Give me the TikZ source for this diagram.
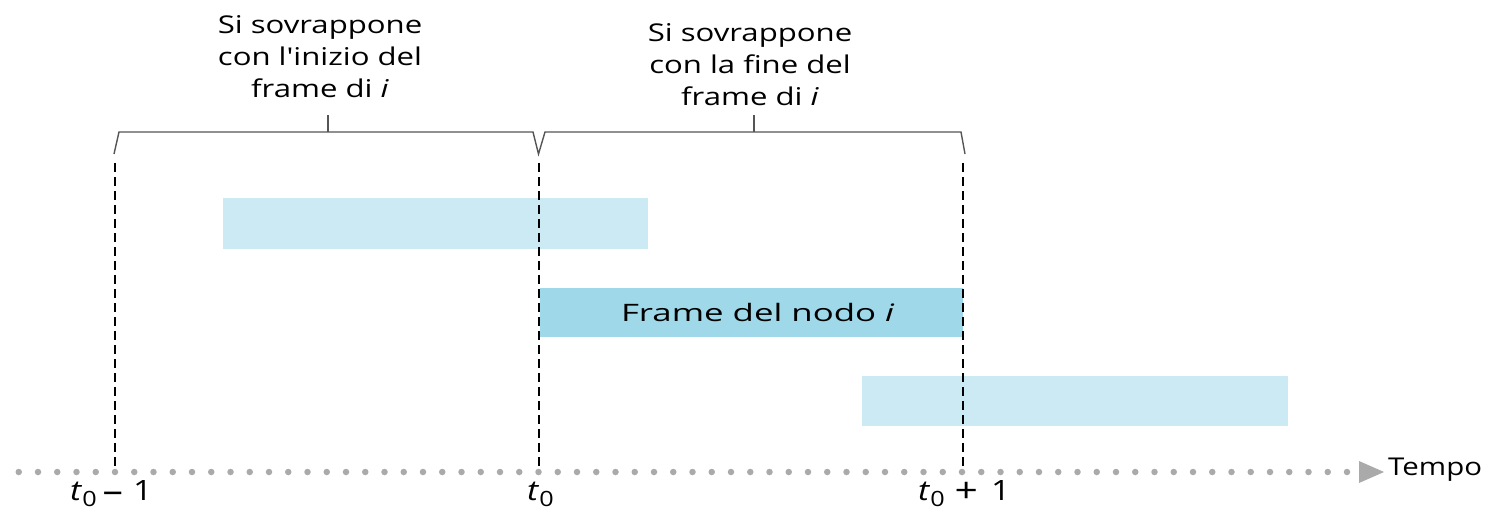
\documentclass[tikz,border=0pt]{standalone}
\usepackage{fontspec}
\setmainfont{Open Sans}
\newfontfamily\widefont[FakeStretch=1.27]{Open Sans}
\newfontfamily\widerfont[FakeStretch=1.45]{Open Sans}
\newfontfamily\axisfont[FakeStretch=1.2]{Open Sans}
\begin{document}
\begin{tikzpicture}[x=1pt,y=-1pt,
  lbl/.style={font=\widefont\fontsize{24.5}{32}\selectfont, inner sep=0pt, align=center},
  tlbl/.style={font=\axisfont\fontsize{28}{30}\selectfont, inner sep=0pt},
  lightbar/.style={fill=barlight, draw=none},
  darkbar/.style={fill=bardark, draw=none},
  vdash/.style={draw=black, line width=1.4pt, dash pattern=on 9pt off 5pt},
  brace/.style={draw=bracegrey, line width=1.4pt},
  dot/.style={circle, fill=dotgrey, minimum size=6.5pt, inner sep=0pt}]
\definecolor{barlight}{HTML}{CBEAF4}
\definecolor{bardark}{HTML}{9FD8E8}
\definecolor{dotgrey}{HTML}{AAAAAA}
\definecolor{bracegrey}{HTML}{555555}
\newcommand{\sub}[1]{\raisebox{-0.4ex}{\fontsize{21}{21}\selectfont #1}}
\newcommand{\bigop}[1]{\raisebox{-1.5pt}{\fontsize{34}{34}\selectfont #1}}
\useasboundingbox (0,0) rectangle (1505,514);
% bars
\fill[barlight] (223,198) rectangle (648,249);
\node[darkbar, minimum width=423pt, minimum height=49pt, anchor=north west, inner sep=0pt, font=\widerfont\fontsize{24}{28}\selectfont] (frame) at (540,288) {\hspace*{12pt}Frame del nodo \textit{i}};
\fill[barlight] (862,376) rectangle (1288,426);
% dotted time axis
\foreach \k in {-5,...,64} {\node[dot] at ({115+19.25*\k},472) {};}
\fill[dotgrey] (1359,461) -- (1384,472) -- (1359,483) -- cycle;
\node[tlbl, font=\axisfont\fontsize{24.5}{30}\selectfont, anchor=west] (tempo) at (1388,470) {Tempo};
% dashed verticals
\coordinate (a1) at (115,163); \coordinate (b1) at (115,468);
\coordinate (a2) at (539,163); \coordinate (b2) at (539,468);
\coordinate (a3) at (963,163); \coordinate (b3) at (963,468);
\draw[vdash] (a1) -- (b1);
\draw[vdash] (a2) -- (b2);
\draw[vdash] (a3) -- (b3);
% brackets
\draw[brace] (114,154) -- (119,132) -- (533,132) -- (538.5,154) -- (545,132) -- (961,132) -- (965,154);
\coordinate (tk1) at (328,132); \coordinate (tk1t) at (328,115);
\coordinate (tk2) at (754,132); \coordinate (tk2t) at (754,115);
\draw[brace] (tk1) -- (tk1t);
\draw[brace] (tk2) -- (tk2t);
% top labels
\node[lbl] (left) at (320,57) {Si sovrappone\\con l'inizio del\\frame di \textit{i}};
\node[lbl] (right) at (750,65) {Si sovrappone\\con la fine del\\frame di \textit{i}};
% time labels
\node[tlbl, anchor=west] (tm) at (70,494) {\textit{t}\sub{0}\hspace{6pt}\bigop{–}\hspace{10pt}1};
\node[tlbl, anchor=west] (t0) at (527,494) {\textit{t}\sub{0}};
\node[tlbl, anchor=west] (tp) at (918,494) {\textit{t}\sub{0}\hspace{10pt}\bigop{+}\hspace{13pt}1};
\end{tikzpicture}
\end{document}
